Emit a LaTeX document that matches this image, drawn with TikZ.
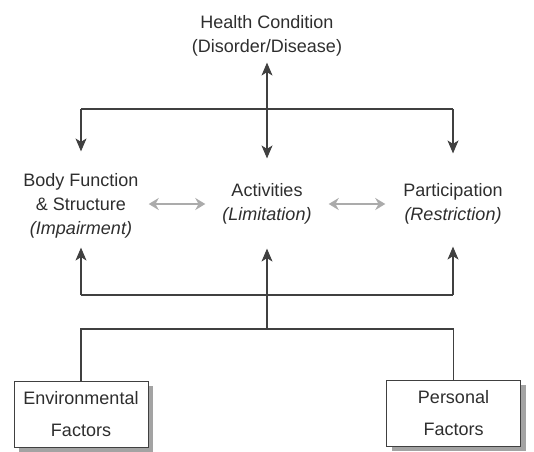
\documentclass[tikz,border=0pt]{standalone}
\usepackage{fontspec}
\setmainfont{Liberation Sans}
\usetikzlibrary{arrows.meta,shadows}
\definecolor{inkgray}{HTML}{2E2E2E}
\definecolor{linegray}{HTML}{404040}
\definecolor{softgray}{HTML}{ABABAB}

\begin{document}
\begin{tikzpicture}[x=1pt,y=-1pt,
    font=\fontsize{18}{24}\selectfont, text=inkgray,
    term/.style={align=center,inner sep=0pt},
    factor/.style={draw=linegray,line width=0.8pt,fill=white,align=center,
      minimum width=134pt,minimum height=66pt,inner sep=0pt,
      font=\fontsize{18}{32}\selectfont,
      drop shadow={shadow xshift=5pt,shadow yshift=-5pt,fill=gray!80,opacity=.9}},
    link/.style={draw=linegray,line width=1.1pt},
    arr/.style={link,-{Stealth[length=13pt,width=11pt,inset=3.5pt]}},
    softarr/.style={draw=softgray,line width=1.8pt,
      {Stealth[length=10pt,width=12pt]}-{Stealth[length=10pt,width=12pt]}}]
  \useasboundingbox (0,0) rectangle (534,451);

  % components
  \node[term] (hc) at (267,36) {Health Condition\\(Disorder/Disease)};
  \node[term] (bfs) at (81,206) {Body Function\\\& Structure\\\textit{(Impairment)}};
  \node[term] (act) at (267,204) {Activities\\\textit{(Limitation)}};
  \node[term] (par) at (453,204) {Participation\\\textit{(Restriction)}};

  % contextual factors
  \node[factor] (env) at (81,414) {Environmental\\Factors};
  \node[factor] (pers) at (453.5,413) {Personal\\Factors};

  \coordinate (split) at (267,109);
  \coordinate (join) at (267,295);
  \coordinate (base) at (267,329);

  % health condition to the three components
  \draw[link,{Stealth[length=13pt,width=11pt,inset=3.5pt]}-{Stealth[length=13pt,width=11pt,inset=3.5pt]},
    shorten <=6, shorten >=25] (hc) -- (act);
  \draw[link] (bfs |- split) -- (par |- split);
  \draw[arr, shorten >=22] (bfs |- split) -- (bfs);
  \draw[arr, shorten >=30] (par |- split) -- (par);

  % interactions between components
  \draw[softarr, shorten <=10, shorten >=17] (bfs.east |- act) -- (act.west);
  \draw[softarr, shorten <=17, shorten >=18] (act.east) -- (par.west);

  % factors back to the components
  \draw[link] (bfs |- join) -- (par |- join);
  \draw[arr, shorten >=9] (bfs |- join) -- (bfs);
  \draw[arr, shorten >=22] (par |- join) -- (par);
  \draw[arr, shorten >=24] (base) -- (act);
  \draw[link] (env) |- (base) -| (pers);
\end{tikzpicture}
\end{document}
